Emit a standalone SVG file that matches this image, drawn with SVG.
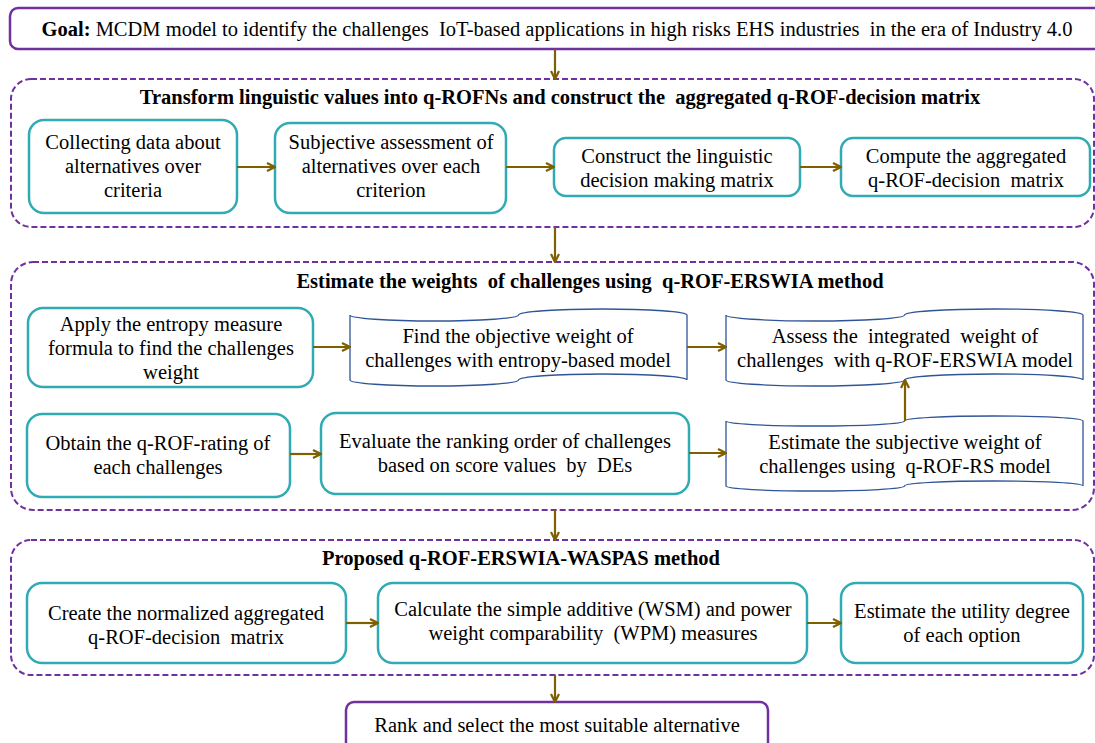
<svg xmlns="http://www.w3.org/2000/svg" width="1095" height="743" viewBox="0 0 1095 743" xml:space="preserve">
<defs>
<style>
text{font-family:"Liberation Serif","Times New Roman",serif;font-size:20.5px;fill:#000;text-anchor:middle;white-space:pre}
.b{font-weight:bold}
.stage{fill:none;stroke:#7030A0;stroke-width:2;stroke-dasharray:6 3}
.term{fill:#fff;stroke:#7030A0;stroke-width:2.5}
.proc{fill:#fff;stroke:#31ABB3;stroke-width:2.5}
.doc{fill:#fff;stroke:#2F5597;stroke-width:1.3}
.conn path{fill:none;stroke:#7F6000;stroke-width:2.2;marker-end:url(#ah)}
</style>
<marker id="ah" viewBox="0 0 10 10" refX="9" refY="5" markerWidth="10" markerHeight="10" markerUnits="userSpaceOnUse" orient="auto">
<path d="M1,1 L9,5 L1,9" fill="none" stroke="#7F6000" stroke-width="2.2"/>
</marker>
</defs>
<rect width="1095" height="743" fill="#fff"/>

<g id="goal">
<rect class="term" x="10" y="8" width="1100" height="41" rx="8"/>
<text x="557" y="36"><tspan class="b">Goal:</tspan> MCDM model to identify the challenges  IoT-based applications in high risks EHS industries  in the era of Industry 4.0</text>
</g>

<g id="stage1">
<rect class="stage" x="11" y="79" width="1083" height="148" rx="20"/>
<text class="b" x="560" y="104">Transform linguistic values into q-ROFNs and construct the  aggregated q-ROF-decision matrix</text>
</g>
<g id="collect">
<rect class="proc" x="29" y="120" width="208" height="93" rx="15"/>
<text x="133" y="149">Collecting data about</text>
<text x="133" y="173">alternatives over</text>
<text x="133" y="197">criteria</text>
</g>
<g id="subjective">
<rect class="proc" x="275" y="123" width="231" height="90" rx="15"/>
<text x="391" y="149">Subjective assessment of</text>
<text x="391" y="173">alternatives over each</text>
<text x="391" y="197">criterion</text>
</g>
<g id="construct">
<rect class="proc" x="554" y="138" width="246" height="58" rx="12"/>
<text x="677" y="163">Construct the linguistic</text>
<text x="677" y="187">decision making matrix</text>
</g>
<g id="compute">
<rect class="proc" x="841" y="138" width="249" height="58" rx="12"/>
<text x="966" y="163">Compute the aggregated</text>
<text x="966" y="187">q-ROF-decision  matrix</text>
</g>

<g id="stage2">
<rect class="stage" x="11" y="262" width="1083" height="248" rx="22"/>
<text class="b" x="590" y="288">Estimate the weights  of challenges using  q-ROF-ERSWIA method</text>
</g>
<g id="apply">
<rect class="proc" x="28" y="308" width="285" height="79" rx="15"/>
<text x="171" y="331">Apply the entropy measure</text>
<text x="171" y="355">formula to find the challenges</text>
<text x="171" y="379">weight</text>
</g>
<g id="objective">
<path class="doc" d="M350,315 A84,6 0 0 0 518.5,315 A84,6 0 0 1 687,315 L687,380 A84,6 0 0 0 518.5,380 A84,6 0 0 1 350,380 Z"/>
<text x="518" y="343">Find the objective weight of</text>
<text x="518" y="367">challenges with entropy-based model</text>
</g>
<g id="integrated">
<path class="doc" d="M726,315 A89,6 0 0 0 904.5,315 A89,6 0 0 1 1083,315 L1083,380 A89,6 0 0 0 904.5,380 A89,6 0 0 1 726,380 Z"/>
<text x="905" y="343">Assess the  integrated  weight of</text>
<text x="905" y="367">challenges  with q-ROF-ERSWIA model</text>
</g>
<g id="rating">
<rect class="proc" x="27" y="414" width="263" height="83" rx="15"/>
<text x="158" y="450">Obtain the q-ROF-rating of</text>
<text x="158" y="474">each challenges</text>
</g>
<g id="ranking">
<rect class="proc" x="321" y="413" width="368" height="81" rx="15"/>
<text x="505" y="448">Evaluate the ranking order of challenges</text>
<text x="505" y="472">based on score values  by  DEs</text>
</g>
<g id="subjweight">
<path class="doc" d="M726,421 A89,5 0 0 0 904.5,421 A89,5 0 0 1 1083,421 L1083,486 A89,5 0 0 0 904.5,486 A89,5 0 0 1 726,486 Z"/>
<text x="905" y="449">Estimate the subjective weight of</text>
<text x="905" y="473">challenges using  q-ROF-RS model</text>
</g>

<g id="stage3">
<rect class="stage" x="11" y="540" width="1083" height="135" rx="20"/>
<text class="b" x="521" y="565">Proposed q-ROF-ERSWIA-WASPAS method</text>
</g>
<g id="normalize">
<rect class="proc" x="27" y="583" width="319" height="80" rx="15"/>
<text x="186" y="620">Create the normalized aggregated</text>
<text x="186" y="644">q-ROF-decision  matrix</text>
</g>
<g id="measures">
<rect class="proc" x="378" y="583" width="429" height="80" rx="15"/>
<text x="593" y="616">Calculate the simple additive (WSM) and power</text>
<text x="593" y="640">weight comparability  (WPM) measures</text>
</g>
<g id="utility">
<rect class="proc" x="841" y="583" width="242" height="80" rx="15"/>
<text x="962" y="618">Estimate the utility degree</text>
<text x="962" y="642">of each option</text>
</g>

<g id="rank">
<rect class="term" x="346" y="702" width="422" height="60" rx="8"/>
<text x="557" y="732">Rank and select the most suitable alternative</text>
</g>

<g class="conn" id="connectors">
<path d="M555,49 L555,79"/>
<path d="M237,167 L275,167"/>
<path d="M506,167 L554,167"/>
<path d="M800,167 L841,167"/>
<path d="M555,227 L555,262"/>
<path d="M313,347 L350,347"/>
<path d="M687,347 L726,347"/>
<path d="M290,454 L321,454"/>
<path d="M689,453 L726,453"/>
<path d="M905,421 L905,380"/>
<path d="M555,510 L555,540"/>
<path d="M346,623 L378,623"/>
<path d="M807,623 L841,623"/>
<path d="M555,675 L555,702"/>
</g>
</svg>
